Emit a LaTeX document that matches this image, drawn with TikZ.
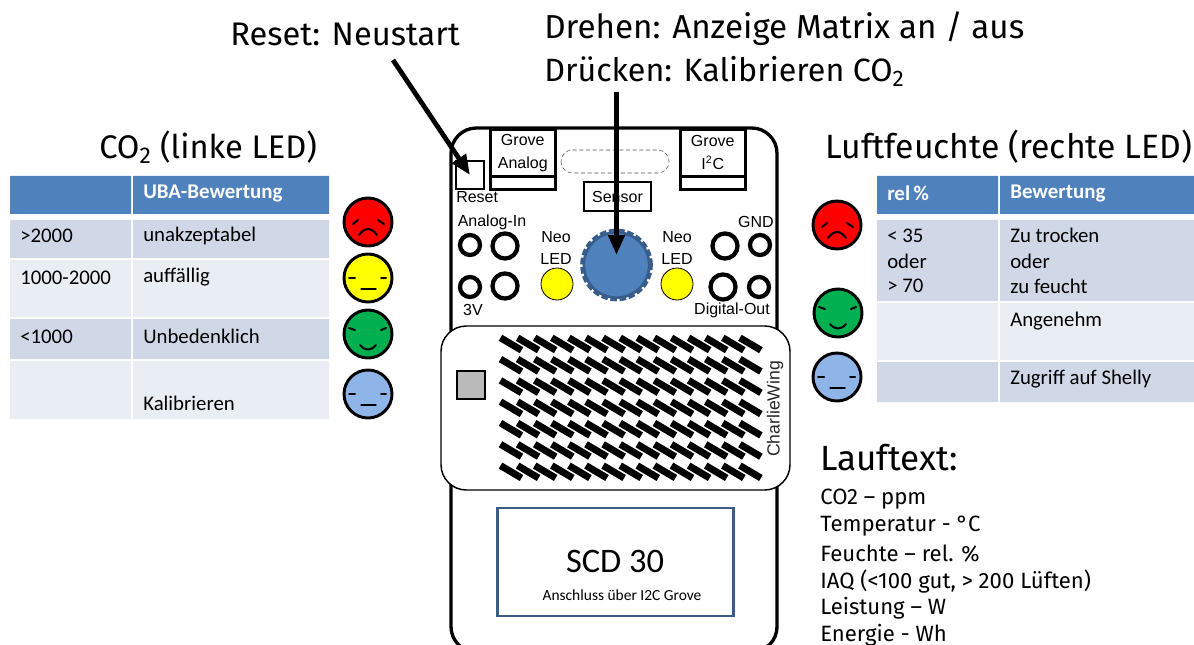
\documentclass[tikz,border=0pt]{standalone}
\usepackage{fontspec}
\setmainfont{Carlito}
\newfontfamily\titlefont{Fira Sans}
\newfontfamily\labelfont{Liberation Sans}
\usetikzlibrary{arrows.meta}
\definecolor{headblue}{HTML}{4F81BD}
\definecolor{bandone}{HTML}{D0D8E8}
\definecolor{bandtwo}{HTML}{E9EDF4}
\definecolor{knobblue}{HTML}{385D8A}
\definecolor{facered}{HTML}{FF0000}
\definecolor{faceyellow}{HTML}{FFFF00}
\definecolor{facegreen}{HTML}{00B050}
\definecolor{faceblue}{HTML}{8FB4E8}
\tikzset{
  title/.style = {anchor=west, inner sep=0pt, font=\titlefont\fontsize{24.9}{25}\selectfont},
  listline/.style = {anchor=west, inner sep=0pt, font=\titlefont\fontsize{16.6}{17}\selectfont},
  cell/.style = {anchor=west, inner sep=0pt, font=\fontsize{15.6}{16}\selectfont},
  headcell/.style = {cell, text=white, font=\bfseries\fontsize{15.7}{16}\selectfont},
  tiny/.style = {inner sep=0pt, font=\labelfont\fontsize{12}{12}\selectfont},
  part/.style = {draw, line width=1.9pt, inner sep=0pt},
  hole/.style = {circle, draw, line width=3.2pt, inner sep=0pt, fill=white},
  neo/.style = {circle, draw, line width=0.6pt, fill=faceyellow, minimum size=24pt, inner sep=0pt},
  pointer/.style = {-{Triangle[length=15pt,width=12pt]}, line width=3.6pt},
  face/.style = {circle, draw, line width=2.2pt, minimum size=36pt, inner sep=0pt},
  mimic/.style = {line width=1.5pt, line cap=round},
  pics/frown/.style = {code={
    \draw[mimic] (-15,2) -- (-10,-2);
    \draw[mimic] (10,-2) -- (16,2);
    \draw[mimic] (-9,13) .. controls (-3,5) and (3,5) .. (9,13);}},
  pics/flat/.style = {code={
    \draw[mimic] (-19,0) -- (-13,0);
    \draw[mimic] (13,0) -- (18,0);
    \draw[mimic, line width=1pt] (-7,11) -- (8,11);}},
  pics/smile/.style = {code={
    \draw[mimic] (-19,-6) -- (-13,-4);
    \draw[mimic] (13,-4) -- (18,-6);
    \draw[mimic] (-8,11) .. controls (-3,17) and (3,17) .. (8,11);}}
}
\begin{document}
\begin{tikzpicture}[x=0.75pt, y=-0.75pt]
  \clip (0,0) rectangle (1194,645);
  \fill[white] (0,0) rectangle (1194,645);

  % board
  \draw[line width=2.5pt, rounded corners=19pt] (451,128) rectangle (777,652);
  \node[part, minimum width=48.75pt, minimum height=9.75pt, anchor=north west] (analogfoot) at (489,175) {};
  \node[part, minimum width=48.75pt, minimum height=35.25pt, anchor=north west, align=center, tiny] (analog) at (489,128) {Grove\\[5pt]Analog};
  \node[part, minimum width=48.75pt, minimum height=9.75pt, anchor=north west] (i2cfoot) at (679,175) {};
  \node[part, minimum width=48.75pt, minimum height=35.25pt, anchor=north west, align=center, tiny] (i2c) at (679,128) {Grove\\[5pt]I\textsuperscript{2}C};
  \draw[densely dashed, black!70, rounded corners=8.5pt] (561,150) rectangle (669,173);
  \node[part, minimum size=21pt] (rstbox) at (470,175) {};
  \node[tiny, anchor=west] (rst) at (456,197) {Reset};
  \node[part, minimum width=50pt, minimum height=21.5pt, tiny] (sensor) at (617.5,196.5) {Sensor};

  % pins
  \node[tiny] (ain) at (492,222) {Analog-In};
  \node[tiny] (gnd) at (756,222) {GND};
  \node[tiny] (vcc) at (473,310) {3V};
  \node[tiny] (dout) at (732,310) {Digital-Out};
  \node[hole, minimum size=15pt] (p1) at (470,245) {};
  \node[hole, minimum size=18.8pt] (p2) at (505,246) {};
  \node[hole, minimum size=15pt] (p3) at (470,287) {};
  \node[hole, minimum size=18.8pt] (p4) at (505,286) {};
  \node[hole, minimum size=18.8pt] (p5) at (725,246) {};
  \node[hole, minimum size=15pt] (p6) at (760,245) {};
  \node[hole, minimum size=18.8pt] (p7) at (723,287) {};
  \node[hole, minimum size=15pt] (p8) at (759,287) {};

  % neo leds
  \node[tiny, align=center] (neol) at (556,248) {Neo\\[5pt]LED};
  \node[tiny, align=center] (neor) at (677,248) {Neo\\[5pt]LED};
  \node[neo] (ledl) at (557,284) {};
  \node[neo] (ledr) at (677,284) {};

  % knob
  \node[circle, draw=knobblue, line width=2pt, fill=headblue, minimum size=49pt, inner sep=0pt] (knob) at (616.5,265) {};
  \node[circle, draw=knobblue, line width=2pt, dash pattern=on 5pt off 2pt, minimum size=52.5pt, inner sep=0pt] (knobring) at (616.5,265) {};

  % charliewing
  \draw[fill=white, line width=1.1pt, rounded corners=19pt] (441,326) rectangle (790,490);
  \node[draw, fill=black!27, line width=1.5pt, minimum size=21pt, inner sep=0pt] (square) at (470.5,385) {};
  \foreach \row in {0,...,6}
    \foreach \col in {0,...,14}
      \draw[line width=5.2pt] ({511+17.1*\col-10.5},{344+21.3*\row-6.2}) -- ++(21,12.4);
  \node[inner sep=0pt, rotate=90, text=black!85, font=\labelfont\fontsize{13.2}{14}\selectfont] (wing) at (775,409) {CharlieWing};

  % sensor
  \node[draw=knobblue, line width=2.2pt, minimum width=177pt, minimum height=81pt, inner sep=0pt] (scd) at (615.5,562) {};
  \node[inner sep=0pt, font=\fontsize{25.8}{26}\selectfont] (scdname) at (615,561) {SCD 30};
  \node[inner sep=0pt, font=\fontsize{11.6}{12}\selectfont] (scdnote) at (622,595) {Anschluss über I2C Grove};

  % left table
  \fill[headblue] (10,176) rectangle (131,214) (133,176) rectangle (329,214);
  \foreach \top/\bot/\shade in {220/258/bandone, 260/317/bandtwo, 319/359/bandone, 361/419/bandtwo}
    \fill[\shade] (10,\top) rectangle (131,\bot) (133,\top) rectangle (329,\bot);
  \node[headcell] (ubahead) at (143,193.5) {UBA-Bewertung};
  \node[cell] (la) at (20,235.5) {>2000};
  \node[cell] (lb) at (143,235.5) {unakzeptabel};
  \node[cell] (lc) at (20,277.5) {1000-2000};
  \node[cell] (ld) at (143,277.5) {auffällig};
  \node[cell] (le) at (20,336.5) {<1000};
  \node[cell] (lf) at (143,336.5) {Unbedenklich};
  \node[cell] (lg) at (143,403.5) {Kalibrieren};

  % right table
  \fill[headblue] (877,176) rectangle (998,214) (1000,176) rectangle (1194,214);
  \foreach \top/\bot/\shade in {220/301/bandone, 303/360/bandtwo, 362/402/bandone}
    \fill[\shade] (877,\top) rectangle (998,\bot) (1000,\top) rectangle (1194,\bot);
  \node[headcell] (relhead) at (887,193.5) {rel\,\%};
  \node[headcell] (bewhead) at (1010,193.5) {Bewertung};
  \node[cell] (ra) at (887,235.5) {< 35};
  \node[cell] (rb) at (887,261) {oder};
  \node[cell] (rc) at (887,286) {> 70};
  \node[cell] (rd) at (1010,235.5) {Zu trocken};
  \node[cell] (re) at (1010,261) {oder};
  \node[cell] (rf) at (1010,286) {zu feucht};
  \node[cell] (rg) at (1010,321.5) {Angenehm};
  \node[cell] (rh) at (1010,379.5) {Zugriff auf Shelly};

  % faces
  \foreach \name/\px/\py/\shade/\mood in {fa/368/222/facered/frown, fb/368/278/faceyellow/flat, fc/368/334/facegreen/smile, fd/368/394/faceblue/flat, fe/837/225/facered/frown, ff/838/313/facegreen/smile, fg/837/377/faceblue/flat} {
    \node[face, fill=\shade] (\name) at (\px,\py) {};
    \pic at (\px,\py) {\mood};
  }

  % titles
  \node[title, font=\titlefont\fontsize{24.5}{25}\selectfont] (resettitle) at (230,34) {Reset: Neustart};
  \node[title] (turntitle) at (544,29) {Drehen: Anzeige Matrix an / aus};
  \node[title, font=\titlefont\fontsize{24.2}{25}\selectfont] (presstitle) at (544,71) {Drücken: Kalibrieren CO\textsubscript{2}};
  \node[title, font=\titlefont\fontsize{24.5}{25}\selectfont] (co2title) at (99,147) {CO\textsubscript{2} (linke LED)};
  \node[title, font=\titlefont\fontsize{25.3}{26}\selectfont] (humtitle) at (825,147) {Luftfeuchte (rechte LED)};
  \node[title, font=\titlefont\fontsize{26.3}{27}\selectfont] (lauftitle) at (820,458) {Lauftext:};
  \node[listline] (l1) at (820,499) {CO2 – ppm};
  \node[listline] (l2) at (820,526) {Temperatur - °C};
  \node[listline] (l3) at (820,554) {Feuchte – rel. \%};
  \node[listline] (l4) at (820,581) {IAQ (<100 gut, > 200 Lüften)};
  \node[listline] (l5) at (820,608) {Leistung – W};
  \node[listline] (l6) at (820,635) {Energie - Wh};

  % arrows
  \coordinate (resetfrom) at (393,60);
  \coordinate (knobfrom) at (616.5,92);
  \draw[pointer] (resetfrom) -- (rstbox.center);
  \draw[pointer, shorten >=7.5pt] (knobfrom) -- (knob.center);
\end{tikzpicture}
\end{document}
